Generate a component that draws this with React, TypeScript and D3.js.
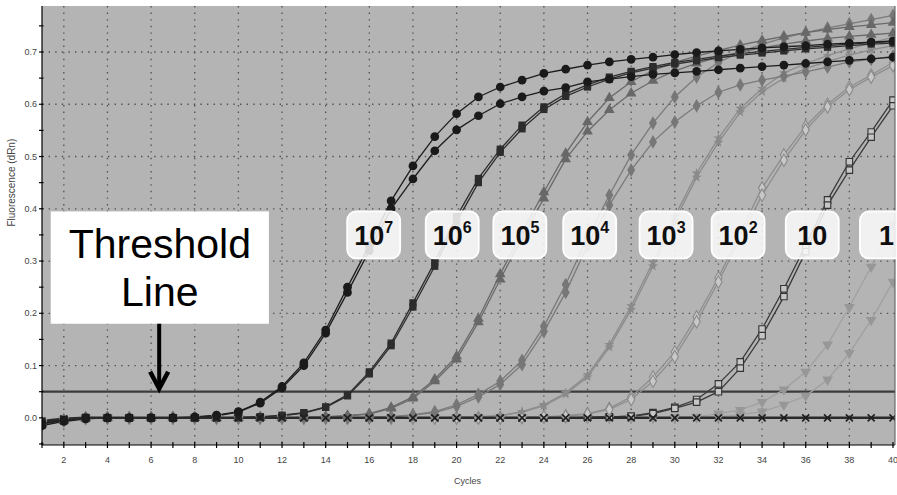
import React from "react";
import * as d3 from "d3";

// ---------- data ----------
const cycles = d3.range(1, 41);

const r7a = [-0.010,-0.005,0,0,0,0,0,0.002,0.005,0.012, 0.030,0.060,0.105,0.168,0.250,0.330,0.415,0.482,0.538,0.582, 0.614,0.633,0.646,0.659,0.667,0.675,0.681,0.686,0.690,0.695, 0.699,0.702,0.705,0.708,0.710,0.712,0.715,0.717,0.719,0.721];
const r7b = [-0.015,-0.007,-0.002,0,0,0,0,0.001,0.004,0.011, 0.028,0.057,0.100,0.162,0.240,0.320,0.400,0.457,0.511,0.551, 0.578,0.601,0.614,0.625,0.632,0.643,0.648,0.653,0.657,0.660, 0.663,0.666,0.669,0.672,0.675,0.678,0.681,0.684,0.687,0.690];
const r6a = [-0.012,-0.004,0,0,0,0,0,0,0,0, 0.002,0.005,0.010,0.021,0.044,0.088,0.143,0.220,0.298,0.385, 0.458,0.514,0.560,0.595,0.620,0.637,0.652,0.663,0.672,0.680, 0.686,0.692,0.697,0.701,0.705,0.709,0.712,0.715,0.718,0.720];
const r6b = [-0.008,-0.003,0.001,0,0,0,0,0,0,0.001, 0.002,0.004,0.009,0.020,0.042,0.084,0.138,0.212,0.290,0.375, 0.450,0.508,0.553,0.590,0.615,0.633,0.648,0.660,0.669,0.677, 0.683,0.689,0.694,0.698,0.702,0.706,0.709,0.712,0.715,0.717];
const r5a = [-0.012,-0.006,-0.001,0,0,0,0,0,0,0, 0,0,0.001,0.002,0.004,0.008,0.020,0.040,0.074,0.118, 0.190,0.275,0.355,0.432,0.506,0.566,0.612,0.643,0.665,0.680, 0.692,0.703,0.713,0.722,0.730,0.737,0.743,0.748,0.752,0.756];
const r5b = [-0.009,-0.004,0,0,0,0,0,0,0,0, 0,0,0.001,0.002,0.004,0.007,0.018,0.037,0.070,0.112, 0.183,0.265,0.345,0.420,0.495,0.548,0.589,0.621,0.645,0.664, 0.678,0.690,0.700,0.708,0.715,0.721,0.726,0.730,0.733,0.736];
const r4a = [-0.010,-0.005,0,0,0,0,0,0,0,0, 0,0,0,0,0,0.001,0.002,0.006,0.012,0.025, 0.045,0.070,0.110,0.175,0.255,0.345,0.426,0.503,0.564,0.614, 0.652,0.680,0.700,0.715,0.727,0.737,0.746,0.754,0.762,0.770];
const r4b = [-0.013,-0.006,-0.001,0,0,0,0,0,0,0, 0,0,0,0,0,0.001,0.002,0.005,0.010,0.022, 0.040,0.064,0.102,0.165,0.240,0.330,0.407,0.474,0.528,0.566, 0.597,0.623,0.637,0.646,0.654,0.662,0.671,0.681,0.686,0.692];
const r3a = [-0.008,-0.003,0,0,0,0,0,0,0,0, 0,0,0,0,0,0,0,0,0,0.001, 0.002,0.004,0.012,0.025,0.048,0.082,0.140,0.214,0.298,0.385, 0.468,0.535,0.592,0.630,0.660,0.678,0.693,0.706,0.718,0.728];
const r3b = [-0.011,-0.005,-0.001,0,0,0,0,0,0,0, 0,0,0,0,0,0,0,0,0,0.001, 0.002,0.004,0.011,0.023,0.045,0.078,0.135,0.207,0.290,0.377, 0.460,0.527,0.585,0.624,0.650,0.668,0.682,0.694,0.704,0.712];
const r2a = [-0.009,-0.004,0,0,0,0,0,0,0,0, 0,0,0,0,0,0,0,0,0,0, 0,0,0.001,0.002,0.004,0.008,0.018,0.040,0.078,0.126, 0.193,0.268,0.355,0.440,0.503,0.558,0.600,0.633,0.656,0.680];
const r2b = [-0.012,-0.005,-0.001,0,0,0,0,0,0,0, 0,0,0,0,0,0,0,0,0,0, 0,0,0.001,0.002,0.003,0.007,0.016,0.035,0.070,0.117, 0.184,0.260,0.345,0.426,0.493,0.551,0.595,0.628,0.652,0.674];
const r1a = [-0.010,-0.004,0,0,0,0,0,0,0,0, 0,0,0,0,0,0,0,0,0,0, 0,0,0,0,0,0.001,0.002,0.003,0.010,0.020, 0.035,0.065,0.107,0.170,0.247,0.330,0.417,0.490,0.547,0.608];
const r1b = [-0.014,-0.006,-0.001,0,0,0,0,0,0,0, 0,0,0,0,0,0,0,0,0,0, 0,0,0,0,0,0.001,0.002,0.003,0.008,0.018, 0.030,0.050,0.095,0.157,0.232,0.318,0.407,0.474,0.537,0.597];
const r0a = [-0.008,-0.003,0,0,0,0,0,0,0,0, 0,0,0,0,0,0,0,0,0,0, 0,0,0,0,0,0,0,0,0,0.001, 0.002,0.008,0.015,0.030,0.054,0.088,0.140,0.212,0.289,0.370];
const r0b = [-0.011,-0.004,0,0,0,0,0,0,0,0, 0,0,0,0,0,0,0,0,0,0, 0,0,0,0,0,0,0,0,0,0, 0.001,0.002,0.006,0.012,0.025,0.042,0.073,0.124,0.187,0.260];
const ntc = [-0.006,-0.002,0,0,0,0,0,0,0,0, 0,0,0,0,0,0,0,0,0,0, 0,0,0,0,0,0,0,0,0,0, 0,0,0,0,0,0,0,0,0,0];

const threshold = 0.05;
const yTicksMajor = [0, 0.1, 0.2, 0.3, 0.4, 0.5, 0.6, 0.7];
const yTicksMinor = [-0.05, 0, 0.05, 0.1, 0.15, 0.2, 0.25, 0.3, 0.35, 0.4, 0.45, 0.5, 0.55, 0.6, 0.65, 0.7, 0.75];
const xTickLabels = [2, 4, 6, 8, 10, 12, 14, 16, 18, 20, 22, 24, 26, 28, 30, 32, 34, 36, 38, 40];

const labelBases = ["10", "10", "10", "10", "10", "10", "10", "1"];
const labelExps = ["7", "6", "5", "4", "3", "2", "", ""];
const labelCycles = [16.2, 19.8, 22.9, 26.1, 29.6, 32.9, 36.3, 39.7];
const labelValue = 0.35;

// ---------- styles ----------
type Shape = "circle" | "square" | "triangle" | "diamond" | "star" | "odiamond" | "osquare" | "tridown" | "x";
const seriesList: { reps: number[][]; shape: Shape; line: string; fill: string; stroke: string }[] = [
  { reps: [r0a, r0b], shape: "tridown", line: "#a0a0a0", fill: "#979797", stroke: "none" },
  { reps: [r1a, r1b], shape: "osquare", line: "#3a3a3a", fill: "#c6c6c6", stroke: "#333" },
  { reps: [r2a, r2b], shape: "odiamond", line: "#8e8e8e", fill: "#c8c8c8", stroke: "#8a8a8a" },
  { reps: [r3a, r3b], shape: "star", line: "#8c8c8c", fill: "#8a8a8a", stroke: "none" },
  { reps: [r4a, r4b], shape: "diamond", line: "#7a7a7a", fill: "#777", stroke: "none" },
  { reps: [r5a, r5b], shape: "triangle", line: "#6a6a6a", fill: "#686868", stroke: "none" },
  { reps: [r6a, r6b], shape: "square", line: "#2e2e2e", fill: "#2c2c2c", stroke: "none" },
  { reps: [r7a, r7b], shape: "circle", line: "#1c1c1c", fill: "#1a1a1a", stroke: "none" },
  { reps: [ntc], shape: "x", line: "#2a2a2a", fill: "none", stroke: "#1e1e1e" },
];

const W = 897, H = 495;
const left = 42, right = 893, plotRight = 895, top = 6, bottom = 445;
const FONT = "'Liberation Sans', Arial, sans-serif";

const x = d3.scaleLinear().domain([1, 40]).range([left, right]);
const y = d3.scaleLinear().domain([-0.052, 0.788]).range([bottom, top]);

function symbolPath(shape: Shape): string {
  switch (shape) {
    case "circle": return d3.symbol(d3.symbolCircle, 60)() as string;
    case "square": return d3.symbol(d3.symbolSquare, 52)() as string;
    case "triangle": return d3.symbol(d3.symbolTriangle, 50)() as string;
    case "tridown": return d3.symbol(d3.symbolTriangle, 50)() as string;
    case "diamond": return d3.symbol(d3.symbolDiamond, 55)() as string;
    case "star": return d3.symbol(d3.symbolStar, 32)() as string;
    case "odiamond": return d3.symbol(d3.symbolDiamond, 45)() as string;
    case "osquare": return d3.symbol(d3.symbolSquare, 42)() as string;
    case "x": return "M-3.5,-3.5L3.5,3.5M-3.5,3.5L3.5,-3.5";
  }
}

export default function App() {
  const line = d3.line<number>().x((_, i) => x(cycles[i])).y((v) => y(v));

  const tX = x(1.4), tX2 = x(11.4), tY = y(0.395), tY2 = y(0.18);
  const arrowX = x(6.37);
  const thY = y(threshold);

  return (
    <svg width={W} height={H} style={{ position: "absolute", left: 0, top: 0, background: "#fff" }} fontFamily={FONT}>
      <defs>
        <clipPath id="plotclip">
          <rect x={left} y={top} width={plotRight - left} height={bottom - top} />
        </clipPath>
      </defs>
      <rect x={0} y={0} width={W} height={H} fill="#fff" />
      <rect x={left} y={top} width={plotRight - left} height={bottom - top} fill="#b4b4b4" />

      {/* grid */}
      <g stroke="#505050" strokeWidth={1.3} strokeDasharray="1.4 5.2">
        {yTicksMajor.filter((v) => v > 0).map((v) => (
          <line key={"gy" + v} x1={left} x2={plotRight} y1={y(v)} y2={y(v)} />
        ))}
        {xTickLabels.filter((c) => c < 40).map((c) => (
          <line key={"gx" + c} x1={x(c)} x2={x(c)} y1={top} y2={bottom} />
        ))}
      </g>

      {/* threshold */}
      <line x1={left} x2={plotRight} y1={thY} y2={thY} stroke="#3c3c3c" strokeWidth={2.2} />

      {/* curves */}
      <g clipPath="url(#plotclip)">
        {seriesList.map((s, si) =>
          s.reps.map((r, ri) => (
            <path key={`l${si}-${ri}`} d={line(r) as string} fill="none" stroke={s.line}
              strokeWidth={s.shape === "x" ? 2.6 : 1.3} />
          ))
        )}
        {seriesList.map((s, si) =>
          s.reps.map((r, ri) =>
            r.map((v, i) => (
              <path key={`m${si}-${ri}-${i}`} d={symbolPath(s.shape)}
                transform={`translate(${x(cycles[i])},${y(v)})${s.shape === "tridown" ? " rotate(180)" : ""}`}
                fill={s.fill} stroke={s.stroke}
                strokeWidth={s.shape === "x" ? 1.6 : 1.1} />
            ))
          )
        )}
      </g>

      {/* axes */}
      <line x1={left} x2={left} y1={top} y2={bottom} stroke="#000" strokeWidth={1.2} />
      <line x1={left} x2={plotRight} y1={bottom} y2={bottom} stroke="#000" strokeWidth={1.2} />
      <line x1={plotRight} x2={plotRight} y1={top} y2={bottom} stroke="#555" strokeWidth={1} />
      {yTicksMinor.map((v) => (
        <line key={"ty" + v} x1={left - 3} x2={left + 1.5} y1={y(v)} y2={y(v)} stroke="#000" strokeWidth={1.2} />
      ))}
      {yTicksMajor.map((v) => (
        <text key={"ly" + v} x={left - 5} y={y(v) + 3} textAnchor="end" fontSize={9} fill="#444">
          {d3.format(".1f")(v)}
        </text>
      ))}
      {cycles.map((c) => (
        <line key={"tx" + c} x1={x(c)} x2={x(c)} y1={bottom - 3} y2={bottom + 3} stroke="#000" strokeWidth={1.2} />
      ))}
      {xTickLabels.map((c) => (
        <text key={"lx" + c} x={x(c)} y={463} textAnchor="middle" fontSize={9} fill="#444">{c}</text>
      ))}
      <text x={(left + right) / 2} y={484} textAnchor="middle" fontSize={9} fill="#444">Cycles</text>
      <text transform={`translate(15,${y(0.45)}) rotate(-90)`} textAnchor="middle" fontSize={10} fill="#444">
        Fluorescence (dRn)
      </text>

      {/* sample labels */}
      {labelCycles.map((c, i) => {
        const cx = x(c), cy = y(labelValue);
        return (
          <g key={"lab" + i}>
            <rect x={cx - 26.5} y={cy - 23.5} width={53} height={47} rx={9} fill="#fafafa" fillOpacity={0.86}
              stroke="#ffffff" strokeWidth={1.8} />
            <text x={cx} y={cy + 10} textAnchor="middle" fontWeight="bold" fontSize={27} fill="#0e0e0e">
              {labelBases[i]}
              {labelExps[i] && <tspan fontSize={16} dy={-12}>{labelExps[i]}</tspan>}
            </text>
          </g>
        );
      })}

      {/* threshold annotation */}
      <rect x={tX} y={tY} width={tX2 - tX} height={tY2 - tY} fill="#fff" />
      <text x={(tX + tX2) / 2} y={tY + 47} textAnchor="middle" fontSize={41} fill="#000">Threshold</text>
      <text x={(tX + tX2) / 2} y={tY + 95} textAnchor="middle" fontSize={41} fill="#000">Line</text>
      <line x1={arrowX} x2={arrowX} y1={tY2} y2={thY - 3} stroke="#000" strokeWidth={4} />
      <path d={`M${arrowX - 9},${thY - 20} L${arrowX},${thY - 3} L${arrowX + 9},${thY - 20}`} fill="none" stroke="#000" strokeWidth={4.5} strokeLinejoin="miter" />
    </svg>
  );
}
